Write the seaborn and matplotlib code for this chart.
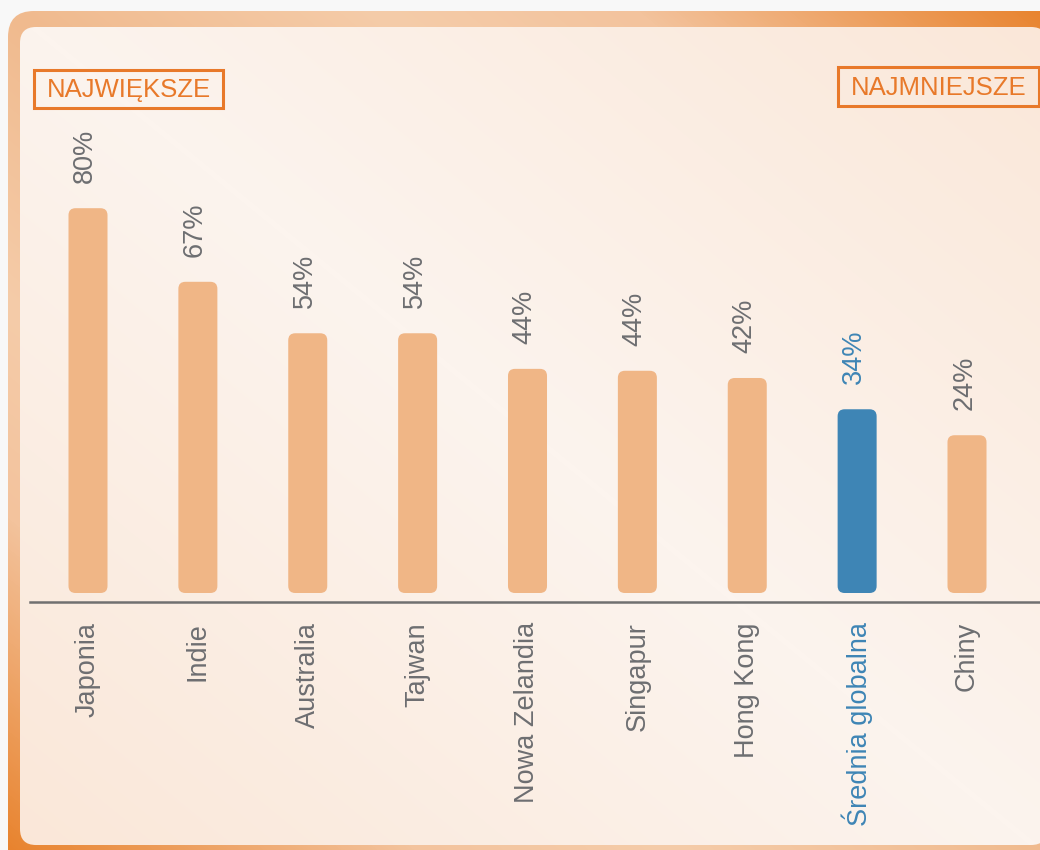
import numpy as np
import matplotlib
matplotlib.use("Agg")
import matplotlib.pyplot as plt
from matplotlib.patches import FancyBboxPatch, Rectangle
from matplotlib.colors import LinearSegmentedColormap
import seaborn as sns

# ================== DATA ==================
categories = ["Japonia", "Indie", "Australia", "Tajwan", "Nowa Zelandia",
              "Singapur", "Hong Kong", "Średnia globalna", "Chiny"]
value_labels = ["80%", "67%", "54%", "54%", "44%", "44%", "42%", "34%", "24%"]
# bar heights as drawn in the picture (in %)
bar_heights = [80, 64.7, 54, 54, 46.6, 46.2, 44.7, 38.2, 32.8]
highlight = "Średnia globalna"

# ================== STYLE ==================
sns.set_style("white")
plt.rcParams["font.family"] = ["Liberation Sans", "DejaVu Sans"]

ORANGE_BAR = "#F0B686"
BLUE = "#3E85B5"
GRAY = "#6D6E71"
ORANGE_TXT = "#E8792A"

W, H = 1040, 850
fig = plt.figure(figsize=(W / 100, H / 100), dpi=100, facecolor="#F8F8F8")

# ---- background frame + panel (pixel coords) ----
bg = fig.add_axes([0, 0, 1, 1])
bg.set_xlim(0, W); bg.set_ylim(H, 0); bg.axis("off")
yy, xx = np.mgrid[0:H, 0:W]
t = np.abs(xx / W - yy / H)

frame_cmap = LinearSegmentedColormap.from_list(
    "frame", [(0, "#F0BA8E"), (0.35, "#F5CCA9"), (0.6, "#F3C39D"), (1, "#E8822C")])
frame = FancyBboxPatch((8, 11), 1200, 1000, boxstyle="round,pad=0,rounding_size=26",
                       fc="none", ec="none")
bg.add_patch(frame)
im = bg.imshow(t, cmap=frame_cmap, extent=(0, W, H, 0), vmin=0, vmax=1, aspect="auto")
im.set_clip_path(frame)

panel_cmap = LinearSegmentedColormap.from_list("panel", ["#FCF4EE", "#FAE7D8"])
panel = FancyBboxPatch((20, 27), 1027, 818, boxstyle="round,pad=0,rounding_size=16",
                       fc="none", ec="none")
bg.add_patch(panel)
im2 = bg.imshow(t, cmap=panel_cmap, extent=(0, W, H, 0), vmin=0, vmax=1, aspect="auto")
im2.set_clip_path(panel)

# header boxes
for (x0, y0, x1, y1), txt in [((34, 70, 223, 108), "NAJWIĘKSZE"),
                              ((838, 67, 1039, 106), "NAJMNIEJSZE")]:
    bg.add_patch(Rectangle((x0, y0), x1 - x0, y1 - y0, fc="none", ec=ORANGE_TXT, lw=2.2))
    bg.text((x0 + x1) / 2, (y0 + y1) / 2 + 1, txt, ha="center", va="center",
            fontsize=18.5, color=ORANGE_TXT)

# ================== CHART ==================
px_per_cat = 109.875
px_per_pct = 4.81
left_px, base_px, line_px = 30, 593, 602
ax = fig.add_axes([left_px / W, 1 - line_px / H, (W - left_px) / W, line_px / H])
ax.patch.set_alpha(0)

palette = {c: (BLUE if c == highlight else ORANGE_BAR) for c in categories}
sns.barplot(x=categories, y=bar_heights, hue=categories, palette=palette,
            legend=False, width=0.355, saturation=1, ax=ax)

xmin = -(88 - left_px) / px_per_cat
ax.set_xlim(xmin, xmin + (W - left_px) / px_per_cat)
ax.set_ylim(-(line_px - base_px) / px_per_pct, base_px / px_per_pct)

# rounded bars
r = 7 / px_per_cat
aspect = px_per_cat / px_per_pct
for p in list(ax.patches):
    x0, y0 = p.get_xy()
    w, h = p.get_width(), p.get_height()
    fc = p.get_facecolor()
    p.remove()
    ax.add_patch(FancyBboxPatch((x0, y0), w, h, boxstyle=f"round,pad=0,rounding_size={r}",
                                mutation_aspect=aspect, fc=fc, ec="none"))

# value labels
for i, (c, h, lab) in enumerate(zip(categories, bar_heights, value_labels)):
    ax.annotate(lab, (i, h), xytext=(-2, 18), textcoords="offset points",
                rotation=90, ha="center", va="bottom", fontsize=19.5,
                color=BLUE if c == highlight else GRAY)

ax.set_xticks(range(len(categories)))
ax.set_xticklabels(categories, rotation=90, fontsize=19.5, color=GRAY)
for lbl in ax.get_xticklabels():
    if lbl.get_text() == highlight:
        lbl.set_color(BLUE)
ax.tick_params(axis="x", length=0, pad=14.5)
ax.set_yticks([])
ax.set_xlabel(""); ax.set_ylabel("")
for s in ["left", "top", "right"]:
    ax.spines[s].set_visible(False)
ax.spines["bottom"].set_color("#707070")
ax.spines["bottom"].set_linewidth(1.8)

fig.savefig("out.png", dpi=100, facecolor=fig.get_facecolor())
